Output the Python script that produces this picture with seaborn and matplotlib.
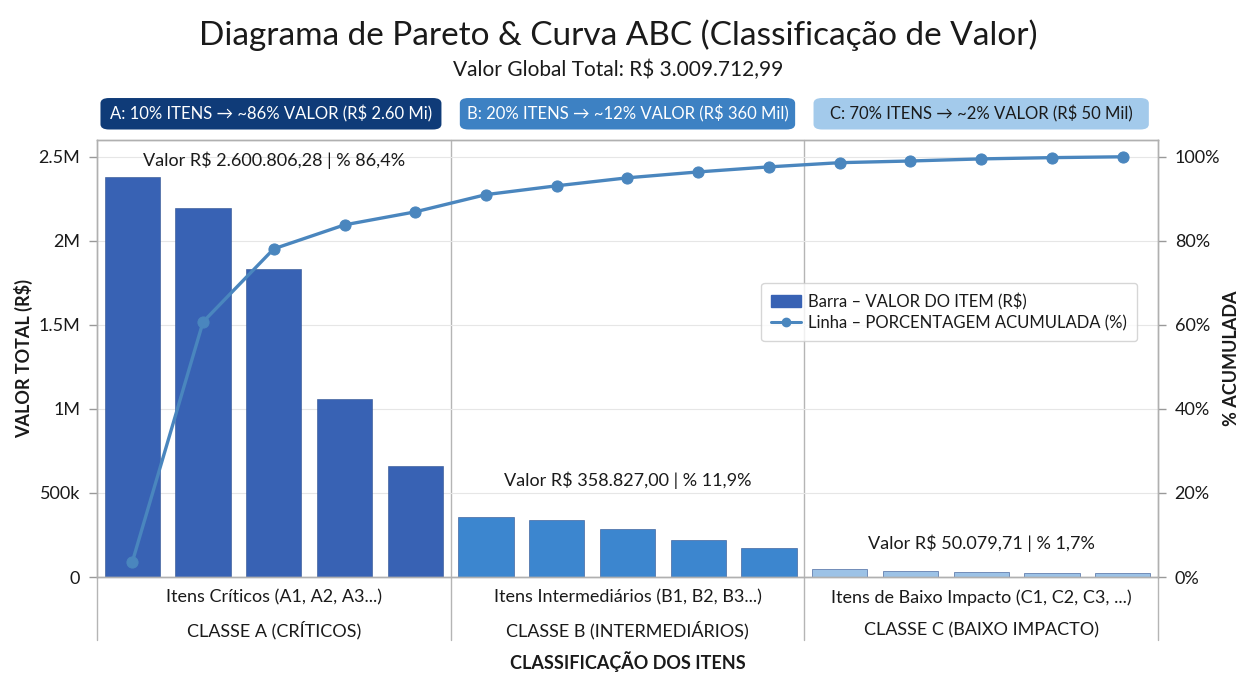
import numpy as np
import pandas as pd
import matplotlib
matplotlib.use("Agg")
import matplotlib.pyplot as plt
from matplotlib.patches import FancyBboxPatch, Patch
from matplotlib.lines import Line2D
import seaborn as sns

# ---------------- data ----------------
items = ["A1", "A2", "A3", "A4", "A5",
         "B1", "B2", "B3", "B4", "B5",
         "C1", "C2", "C3", "C4", "C5"]
classes = ["A"] * 5 + ["B"] * 5 + ["C"] * 5
values = [2380000, 2195000, 1835000, 1060000, 660000,
          357000, 340000, 286000, 220000, 173000,
          48000, 36000, 30000, 24000, 24000]
cum_pct = [3.6, 60.7, 78.1, 83.8, 86.9,
           91.0, 93.1, 95.0, 96.4, 97.6,
           98.6, 99.0, 99.5, 99.8, 100.0]
group_labels = ["Itens Críticos (A1, A2, A3...)",
                "Itens Intermediários (B1, B2, B3...)",
                "Itens de Baixo Impacto (C1, C2, C3, ...)"]
class_labels = ["CLASSE A (CRÍTICOS)",
                "CLASSE B (INTERMEDIÁRIOS)",
                "CLASSE C (BAIXO IMPACTO)"]
group_notes = ["Valor R$ 2.600.806,28 | % 86,4%",
               "Valor R$ 358.827,00 | % 11,9%",
               "Valor R$ 50.079,71 | % 1,7%"]
header_texts = ["A: 10% ITENS → ~86% VALOR (R$ 2.60 Mi)",
                "B: 20% ITENS → ~12% VALOR (R$ 360 Mil)",
                "C: 70% ITENS → ~2% VALOR (R$ 50 Mil)"]
left_ticks = [0, 500000, 1000000, 1500000, 2000000, 2500000]
left_tick_labels = ["0", "500k", "1M", "1.5M", "2M", "2.5M"]
right_ticks = [0, 20, 40, 60, 80, 100]
right_tick_labels = ["0%", "20%", "40%", "60%", "80%", "100%"]
title = "Diagrama de Pareto & Curva ABC (Classificação de Valor)"
subtitle = "Valor Global Total: R$ 3.009.712,99"

df = pd.DataFrame({"item": items, "classe": classes, "valor": values,
                   "cum": cum_pct, "pos": np.arange(len(items))})

bar_colors = {"A": "#3862B4", "B": "#3C86CF", "C": "#9CC2E6"}
header_colors = ["#0F3B78", "#3D81C3", "#A3CAEB"]
header_text_colors = ["white", "white", "#1a1a1a"]
line_color = "#4A86BE"

# ---------------- style ----------------
sns.set_theme(style="white")
plt.rcParams["font.family"] = ["Lato", "DejaVu Sans"]
TXT = "#1a1a1a"

fig = plt.figure(figsize=(12.46, 6.73), dpi=100)
ax = fig.add_axes([0.0778, 0.1426, 0.8516, 0.6494])

sns.barplot(data=df, x="item", y="valor", hue="classe", palette=bar_colors,
            dodge=False, width=0.78, order=items, legend=False, ax=ax,
            saturation=1, edgecolor="#2d4f8f", linewidth=0.4)
ax.set_xlim(-0.5, len(items) - 0.5)
ax.set_ylim(0, 2600000)
ax.set_yticks(left_ticks)
ax.set_yticklabels(left_tick_labels, fontsize=13, color=TXT)
ax.set_xticks([])
ax.set_xlabel("")
ax.set_ylabel("VALOR TOTAL (R$)", fontsize=13, fontweight="bold", color=TXT, labelpad=4)
ax.tick_params(axis="y", length=6, color="#999999", width=1, pad=6)
ax.yaxis.grid(True, color="#e6e6e6", linewidth=0.8)
ax.set_axisbelow(True)
for s in ax.spines.values():
    s.set_color("#b0b0b0")
    s.set_linewidth(1.0)

ax2 = ax.twinx()
sns.lineplot(data=df, x="pos", y="cum", ax=ax2, color=line_color, linewidth=2.4,
             marker="o", markersize=8, markeredgecolor=line_color, legend=False)
ax2.set_ylim(0, 104)
ax2.set_xlim(-0.5, len(items) - 0.5)
ax2.set_yticks(right_ticks)
ax2.set_yticklabels(right_tick_labels, fontsize=13, color=TXT)
ax2.set_ylabel("% ACUMULADA", fontsize=13, fontweight="bold", color=TXT, labelpad=2)
ax2.tick_params(axis="y", length=6, color="#999999", width=1, pad=6)
ax2.set_xlabel("")
for s in ax2.spines.values():
    s.set_color("#b0b0b0")
    s.set_linewidth(1.0)

# group separators (inside and below axes)
trans = ax.get_xaxis_transform()
for b in [4.5, 9.5]:
    ax.plot([b, b], [1.0, -0.145], transform=trans, color="#b5b5b5", lw=1.0, clip_on=False, zorder=0)
for b in [-0.5, 14.5]:
    ax.plot([b, b], [0.0, -0.145], transform=trans, color="#b5b5b5", lw=1.0, clip_on=False)

# bottom labels
centers = [2, 7, 12]
for c, g, k in zip(centers, group_labels, class_labels):
    ax.text(c, -0.047, g, transform=trans, ha="center", va="center", fontsize=13, color=TXT)
    ax.text(c, -0.122, k, transform=trans, ha="center", va="center", fontsize=13, color=TXT)
ax.text(7, -0.193, "CLASSIFICAÇÃO DOS ITENS", transform=trans, ha="center", va="center",
        fontsize=13, fontweight="bold", color=TXT)

# group annotations
note_y = [2480000, 575000, 200000]
note_x = [2.0, 7.0, 12.0]
for x, y, t in zip(note_x, note_y, group_notes):
    ax.text(x, y, t, ha="center", va="center", fontsize=13, color=TXT, zorder=5)

# header boxes
box_x = [(-0.5, 4.42), (4.58, 9.42), (9.58, 14.42)]
for (x0, x1), t, fc, tc in zip(box_x, header_texts, header_colors, header_text_colors):
    p = FancyBboxPatch((x0 + 0.05, 1.024), (x1 - x0) - 0.1, 0.072,
                       boxstyle="round,pad=0.0,rounding_size=0.12",
                       transform=trans, facecolor=fc, edgecolor="none", clip_on=False,
                       mutation_aspect=0.1)
    ax.add_patch(p)
    ax.text((x0 + x1) / 2, 1.060, t, transform=trans, ha="center", va="center",
            fontsize=12, color=tc, clip_on=False)

# legend
handles = [Patch(facecolor=bar_colors["A"], edgecolor=bar_colors["A"]),
           Line2D([0], [0], color=line_color, lw=2.2, marker="o", markersize=6)]
leg = ax2.legend(handles, ["Barra – VALOR DO ITEM (R$)", "Linha – PORCENTAGEM ACUMULADA (%)"],
                 loc="upper right", bbox_to_anchor=(0.988, 0.692), fontsize=12,
                 frameon=True, handlelength=1.8, handletextpad=0.4, borderpad=0.6,
                 labelspacing=0.3)
leg.get_frame().set_edgecolor("#cccccc")
leg.get_frame().set_linewidth(1.0)
for t in leg.get_texts():
    t.set_color(TXT)

fig.text(0.496, 0.948, title, ha="center", va="center", fontsize=24, color=TXT)
fig.text(0.496, 0.896, subtitle, ha="center", va="center", fontsize=15, color=TXT)

fig.savefig("out.png", dpi=100, facecolor="white")
